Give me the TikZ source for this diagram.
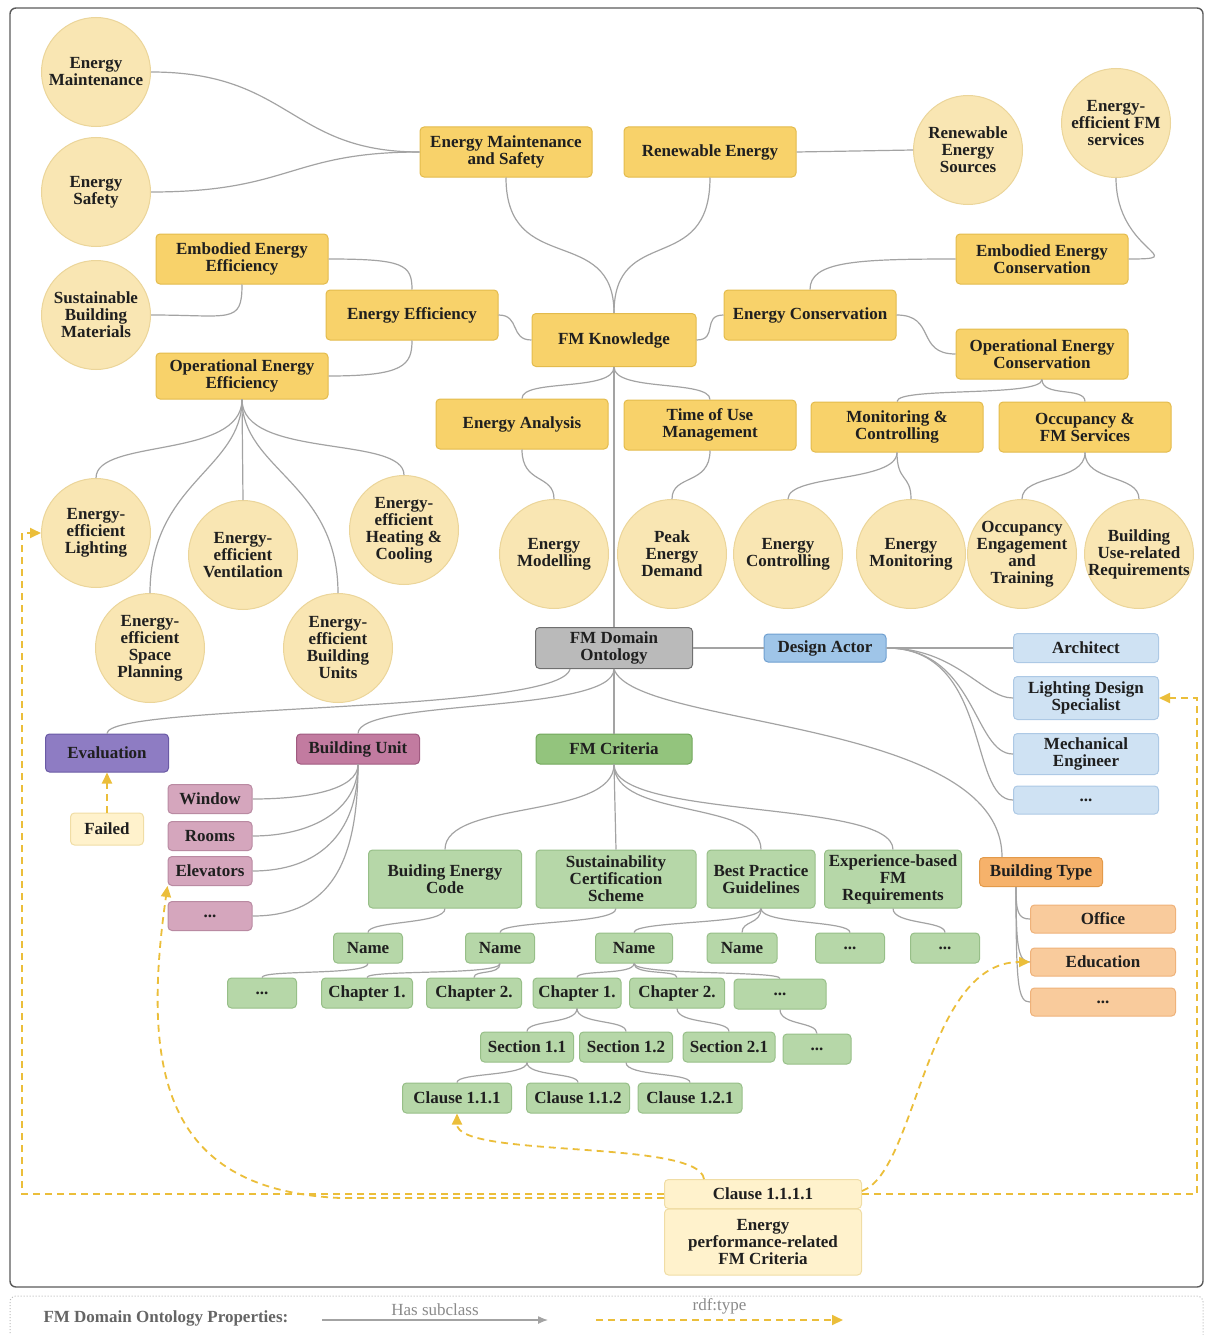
\documentclass[tikz,border=0pt]{standalone}
\usepackage{fontspec}
\setmainfont{Liberation Serif}
\usetikzlibrary{arrows.meta}

\definecolor{goldfill}{HTML}{F8D26A}
\definecolor{goldline}{HTML}{E3BB4C}
\definecolor{bubfill}{HTML}{F9E6B3}
\definecolor{bubline}{HTML}{EBD59A}
\definecolor{edgegray}{HTML}{A3A3A3}
\definecolor{ontfill}{HTML}{BABABA}
\definecolor{ontline}{HTML}{707070}
\definecolor{dafill}{HTML}{9FC5E8}
\definecolor{daline}{HTML}{6F9FD0}
\definecolor{lbfill}{HTML}{CFE2F3}
\definecolor{lbline}{HTML}{ADC9E5}
\definecolor{evfill}{HTML}{8E7CC3}
\definecolor{evline}{HTML}{6A5AA5}
\definecolor{bufill}{HTML}{C27BA0}
\definecolor{buline}{HTML}{A05A80}
\definecolor{pkfill}{HTML}{D5A6BD}
\definecolor{pkline}{HTML}{B98AA2}
\definecolor{fcfill}{HTML}{93C47D}
\definecolor{fcline}{HTML}{72A85C}
\definecolor{lgfill}{HTML}{B6D7A8}
\definecolor{lgline}{HTML}{97BF88}
\definecolor{btfill}{HTML}{F6B26B}
\definecolor{btline}{HTML}{E39A4A}
\definecolor{orfill}{HTML}{F9CB9C}
\definecolor{orline}{HTML}{EFB27A}
\definecolor{palefill}{HTML}{FFF2CC}
\definecolor{paleline}{HTML}{F0DDA5}
\definecolor{rdfgold}{HTML}{EBBE3A}
\definecolor{framegray}{HTML}{5A5A5A}
\definecolor{legendgray}{HTML}{8A8A8A}
\definecolor{legendtitle}{HTML}{656565}

\tikzset{
  lbl/.style={font=\bfseries\fontsize{17}{17}\selectfont, text=black!88, align=center},
  box/.style={lbl, rounded corners=4pt, line width=1pt, inner sep=2pt},
  gold/.style={box, fill=goldfill, draw=goldline, minimum width=172pt, minimum height=50pt},
  bubble/.style={lbl, circle, fill=bubfill, draw=bubline, line width=1pt, minimum size=109pt, inner sep=-8pt},
  onto/.style={box, fill=ontfill, draw=ontline, minimum width=157pt, minimum height=41pt},
  actor/.style={box, fill=dafill, draw=daline, minimum width=122pt, minimum height=28pt},
  actorsub/.style={box, fill=lbfill, draw=lbline, minimum width=145pt, minimum height=29pt},
  evalbox/.style={box, fill=evfill, draw=evline, minimum width=123pt, minimum height=38pt},
  unitbox/.style={box, fill=bufill, draw=buline, minimum width=123pt, minimum height=30pt},
  unitsub/.style={box, fill=pkfill, draw=pkline, minimum width=84pt, minimum height=29pt},
  critbox/.style={box, fill=fcfill, draw=fcline, minimum width=156pt, minimum height=30pt},
  critsub/.style={box, fill=lgfill, draw=lgline, minimum height=30pt},
  typebox/.style={box, fill=btfill, draw=btline, minimum width=123pt, minimum height=29pt},
  typesub/.style={box, fill=orfill, draw=orline, minimum width=145pt, minimum height=28pt},
  palebox/.style={box, fill=palefill, draw=paleline},
  sub/.style={draw=edgegray, line width=1.2pt},
  rdf/.style={draw=rdfgold, line width=1.8pt, dash pattern=on 7pt off 5pt, -{Triangle[length=11pt,width=10pt]}},
  lgd/.style={font=\bfseries\fontsize{17}{17}\selectfont, text=legendtitle},
  lgdsmall/.style={font=\fontsize{17}{17}\selectfont, text=legendgray},
}

\begin{document}
\begin{tikzpicture}[x=1pt,y=-1pt]
\useasboundingbox (0,0) rectangle (1205,1335);
\draw[framegray, line width=1.4pt, rounded corners=6pt] (10,8) rectangle (1203,1287);
\draw[legendgray!60, line width=1pt, dotted, rounded corners=6pt] (10,1345) |- (1203,1296) -- (1203,1345);

% FM Knowledge
\node[bubble] (emaint) at (96,72) {Energy\\Maintenance};
\node[bubble] (esafe) at (96,192) {Energy\\Safety};
\node[bubble] (sbm) at (96,315) {Sustainable\\Building\\Materials};
\node[gold] (ems) at (506,152) {Energy Maintenance\\and Safety};
\node[gold] (renew) at (710,152) {Renewable Energy};
\node[bubble] (res) at (968,150) {Renewable\\Energy\\Sources};
\node[bubble] (eefm) at (1116,123) {Energy-\\efficient FM\\services};
\node[gold] (eee) at (242,259) {Embodied Energy\\Efficiency};
\node[gold] (eeff) at (412,315) {Energy Efficiency};
\node[gold, minimum height=46pt] (oee) at (242,376) {Operational Energy\\Efficiency};
\node[gold, minimum width=164pt, minimum height=53pt] (fmk) at (614,340) {FM Knowledge};
\node[gold] (econs) at (810,315) {Energy Conservation};
\node[gold] (eec) at (1042,259) {Embodied Energy\\Conservation};
\node[gold] (oec) at (1042,354) {Operational Energy\\Conservation};
\node[gold] (eana) at (522,424) {Energy Analysis};
\node[gold] (tou) at (710,425) {Time of Use\\Management};
\node[gold] (moncon) at (897,427) {Monitoring \&\\Controlling};
\node[gold] (occfm) at (1085,427) {Occupancy \&\\FM Services};

\node[bubble] (eel) at (96,533) {Energy-\\efficient\\Lighting};
\node[bubble] (eev) at (243,555) {Energy-\\efficient\\Ventilation};
\node[bubble] (eehc) at (404,530) {Energy-\\efficient\\Heating \&\\Cooling};
\node[bubble] (eesp) at (150,648) {Energy-\\efficient\\Space\\Planning};
\node[bubble] (eebu) at (338,648) {Energy-\\efficient\\Building\\Units};
\node[bubble] (emod) at (554,554) {Energy\\Modelling};
\node[bubble] (peak) at (672,554) {Peak\\Energy\\Demand};
\node[bubble] (ectl) at (788,554) {Energy\\Controlling};
\node[bubble] (emon) at (911,554) {Energy\\Monitoring};
\node[bubble] (occeng) at (1022,554) {Occupancy\\Engagement\\and\\Training};
\node[bubble] (bur) at (1139,554) {Building\\Use-related\\Requirements};

% ontology root and its classes
\node[onto] (fmd) at (614,648) {FM Domain\\Ontology};
\node[actor] (dactor) at (825,648) {Design Actor};
\node[actorsub] (arch) at (1086,648) {Architect};
\node[actorsub, minimum height=43pt] (lds) at (1086,698) {Lighting Design\\Specialist};
\node[actorsub, minimum height=41pt] (mech) at (1086,754) {Mechanical\\Engineer};
\node[actorsub, minimum height=28pt] (actmore) at (1086,800) {...};
\node[evalbox] (eval) at (107,753) {Evaluation};
\node[palebox, minimum width=73pt, minimum height=32pt] (failed) at (107,829) {Failed};
\node[unitbox] (bunit) at (358,749) {Building Unit};
\node[unitsub] (window) at (210,799) {Window};
\node[unitsub] (rooms) at (210,836) {Rooms};
\node[unitsub] (elev) at (210,871) {Elevators};
\node[unitsub] (unitmore) at (210,916) {...};
\node[critbox] (fmcrit) at (614,749) {FM Criteria};
\node[critsub, minimum width=153pt, minimum height=58pt] (bec) at (445,879) {Buiding Energy\\Code};
\node[critsub, minimum width=160pt, minimum height=58pt] (scs) at (616,879) {Sustainability\\Certification\\Scheme};
\node[critsub, minimum width=108pt, minimum height=58pt] (bpg) at (761,879) {Best Practice\\Guidelines};
\node[critsub, minimum width=137pt, minimum height=58pt, inner xsep=0pt] (expfm) at (893,879) {Experience-based\\FM\\Requirements};
\node[typebox] (btype) at (1041,872) {Building Type};
\node[typesub] (office) at (1103,919) {Office};
\node[typesub] (educ) at (1103,962) {Education};
\node[typesub] (typemore) at (1103,1002) {...};

\node[critsub, minimum width=69pt] (name1) at (368,948) {Name};
\node[critsub, minimum width=69pt] (name2) at (500,948) {Name};
\node[critsub, minimum width=77pt] (name3) at (634,948) {Name};
\node[critsub, minimum width=70pt] (name4) at (742,948) {Name};
\node[critsub, minimum width=69pt] (namemore1) at (850,948) {...};
\node[critsub, minimum width=69pt] (namemore2) at (945,948) {...};

\node[critsub, minimum width=69pt] (chmore1) at (262,993) {...};
\node[critsub, minimum width=91pt] (ch1a) at (367,993) {Chapter 1.};
\node[critsub, minimum width=95pt] (ch2a) at (474,993) {Chapter 2.};
\node[critsub, minimum width=88pt] (ch1b) at (577,993) {Chapter 1.};
\node[critsub, minimum width=95pt] (ch2b) at (677,993) {Chapter 2.};
\node[critsub, minimum width=92pt] (chmore2) at (780,994) {...};

\node[critsub, minimum width=93pt] (sec11) at (527,1047) {Section 1.1};
\node[critsub, minimum width=93pt] (sec12) at (626,1047) {Section 1.2};
\node[critsub, minimum width=92pt] (sec21) at (729,1047) {Section 2.1};
\node[critsub, minimum width=68pt] (secmore) at (817,1049) {...};

\node[critsub, minimum width=109pt] (cl111) at (457,1098) {Clause 1.1.1};
\node[critsub, minimum width=103pt] (cl112) at (578,1098) {Clause 1.1.2};
\node[critsub, minimum width=104pt] (cl121) at (690,1098) {Clause 1.2.1};

\node[palebox, minimum width=197pt, minimum height=29pt] (clsub) at (763,1194) {Clause 1.1.1.1};
\node[palebox, minimum width=197pt, minimum height=66pt] (eprc) at (763,1242) {Energy\\performance-related\\FM Criteria};

% has subclass
\draw[sub] (emaint.east) .. controls +(140,0) and +(-130,0) .. (ems.west);
\draw[sub] (esafe.east) .. controls +(140,0) and +(-130,0) .. (ems.west);
\draw[sub] (sbm.east) .. controls +(80,0) and +(0,40) .. (eee.south);
\draw[sub] (eee.east) .. controls +(75,0) and +(0,-25) .. (eeff.north);
\draw[sub] (oee.east) .. controls +(75,0) and +(0,25) .. (eeff.south);
\draw[sub] (eeff.east) .. controls +(22,0) and +(-22,0) .. (fmk.west);
\draw[sub] (ems.south) .. controls +(0,100) and +(0,-90) .. (fmk.north);
\draw[sub] (renew.south) .. controls +(0,100) and +(0,-90) .. (fmk.north);
\draw[sub] (renew.east) -- (res.west);
\draw[sub] (fmk.east) .. controls +(22,0) and +(-22,0) .. (econs.west);
\draw[sub] (econs.north) .. controls +(0,-28) and +(-100,0) .. (eec.west);
\draw[sub] (econs.east) .. controls +(40,0) and +(-40,0) .. (oec.west);
\draw[sub] (eefm.south) .. controls +(0,75) and +(65,0) .. (eec.east);
\draw[sub] (fmk.south) .. controls +(0,25) and +(0,-20) .. (eana.north);
\draw[sub] (fmk.south) .. controls +(0,25) and +(0,-20) .. (tou.north);
\draw[sub] (fmk.south) -- (fmd.north);
\draw[sub] (eana.south) .. controls +(0,35) and +(0,-25) .. (emod.north);
\draw[sub] (tou.south) .. controls +(0,35) and +(0,-25) .. (peak.north);
\draw[sub] (oec.south) .. controls +(0,18) and +(0,-15) .. (moncon.north);
\draw[sub] (oec.south) .. controls +(0,18) and +(0,-15) .. (occfm.north);
\draw[sub] (moncon.south) .. controls +(0,30) and +(0,-25) .. (ectl.north);
\draw[sub] (moncon.south) .. controls +(0,30) and +(0,-25) .. (emon.north);
\draw[sub] (occfm.south) .. controls +(0,30) and +(0,-25) .. (occeng.north);
\draw[sub] (occfm.south) .. controls +(0,30) and +(0,-25) .. (bur.north);
\draw[sub] (oee.south) .. controls +(0,60) and +(0,-40) .. (eel.north);
\draw[sub] (oee.south) .. controls +(0,70) and +(0,-110) .. (eesp.north);
\draw[sub] (oee.south) -- (eev.north);
\draw[sub] (oee.south) .. controls +(0,70) and +(0,-110) .. (eebu.north);
\draw[sub] (oee.south) .. controls +(0,60) and +(0,-40) .. (eehc.north);

\draw[sub] (fmd.east) -- (dactor.west);
\draw[sub] (dactor.east) -- (arch.west);
\draw[sub] (dactor.east) .. controls +(70,0) and +(-30,0) .. (lds.west);
\draw[sub] (dactor.east) .. controls +(90,0) and +(-40,0) .. (mech.west);
\draw[sub] (dactor.east) .. controls +(105,0) and +(-45,0) .. (actmore.west);
\draw[sub] ([xshift=35pt]fmd.south west) .. controls +(-10,45) and +(0,-30) .. (eval.north);
\draw[sub] (fmd.south) .. controls +(0,45) and +(0,-35) .. (bunit.north);
\draw[sub] (fmd.south) -- (fmcrit.north);
\draw[sub] (fmd.south) .. controls +(20,60) and +(0,-140) .. ([xshift=23pt]btype.north west);
\draw[sub] (bunit.south) .. controls +(0,25) and +(55,0) .. (window.east);
\draw[sub] (bunit.south) .. controls +(0,45) and +(60,0) .. (rooms.east);
\draw[sub] (bunit.south) .. controls +(0,70) and +(65,0) .. (elev.east);
\draw[sub] (bunit.south) .. controls +(0,110) and +(70,0) .. (unitmore.east);
\draw[sub] ([xshift=37pt]btype.south west) .. controls +(0,25) and +(-12,0) .. (office.west);
\draw[sub] ([xshift=37pt]btype.south west) .. controls +(0,60) and +(-12,0) .. (educ.west);
\draw[sub] ([xshift=37pt]btype.south west) .. controls +(0,100) and +(-12,0) .. (typemore.west);

\draw[sub] (fmcrit.south) .. controls +(0,55) and +(0,-50) .. (bec.north);
\draw[sub] (fmcrit.south) -- (scs.north);
\draw[sub] (fmcrit.south) .. controls +(0,55) and +(0,-50) .. (bpg.north);
\draw[sub] (fmcrit.south) .. controls +(0,55) and +(0,-50) .. (expfm.north);
\draw[sub] (bec.south) .. controls +(0,16) and +(0,-12) .. (name1.north);
\draw[sub] (scs.south) .. controls +(0,16) and +(0,-12) .. (name2.north);
\draw[sub] (bpg.south) .. controls +(0,16) and +(0,-12) .. (name3.north);
\draw[sub] (bpg.south) .. controls +(0,16) and +(0,-12) .. (name4.north);
\draw[sub] (bpg.south) .. controls +(0,16) and +(0,-12) .. (namemore1.north);
\draw[sub] (expfm.south) .. controls +(0,16) and +(0,-12) .. (namemore2.north);
\draw[sub] (name1.south) .. controls +(0,12) and +(0,-8) .. (chmore1.north);
\draw[sub] (name2.south) .. controls +(0,12) and +(0,-8) .. (ch1a.north);
\draw[sub] (name2.south) .. controls +(0,12) and +(0,-8) .. (ch2a.north);
\draw[sub] (name3.south) .. controls +(0,12) and +(0,-8) .. (ch1b.north);
\draw[sub] (name3.south) .. controls +(0,12) and +(0,-8) .. (ch2b.north);
\draw[sub] (name3.south) .. controls +(0,12) and +(0,-8) .. (chmore2.north);
\draw[sub] (ch1b.south) .. controls +(0,16) and +(0,-12) .. (sec11.north);
\draw[sub] (ch1b.south) .. controls +(0,16) and +(0,-12) .. (sec12.north);
\draw[sub] (ch2b.south) .. controls +(0,16) and +(0,-12) .. (sec21.north);
\draw[sub] (chmore2.south) .. controls +(0,16) and +(0,-12) .. (secmore.north);
\draw[sub] (sec11.south) .. controls +(0,14) and +(0,-10) .. (cl111.north);
\draw[sub] (sec11.south) .. controls +(0,14) and +(0,-10) .. (cl112.north);
\draw[sub] (sec12.south) .. controls +(0,14) and +(0,-10) .. (cl121.north);

% rdf:type
\coordinate (lft) at (22,1194);
\coordinate (rgt) at (1197,1194);
\coordinate (bend) at (340,1198);
\draw[rdf] (failed.north) -- (eval.south);
\draw[rdf] ([xshift=40pt]clsub.north west) .. controls +(-5,-40) and +(0,45) .. (cl111.south);
\draw[rdf] (clsub.west) -- (lft) |- (eel.west);
\draw[rdf] ([yshift=-4pt]clsub.west) -- (bend) .. controls +(-170,-8) and +(-28,195) .. (elev.south west);
\draw[rdf] (clsub.east) -- (rgt) |- (lds.east);
\draw[rdf] ([yshift=3pt]clsub.east) .. controls +(55,-20) and +(-105,0) .. (educ.west);

% legend
\node[lgd, anchor=west] (legtitle) at (40,1318) {FM Domain Ontology Properties:};
\coordinate (has0) at (322,1320);
\coordinate (has1) at (548,1320);
\draw[sub, -{Latex[length=10pt,width=8pt]}] (has0) -- node[above, lgdsmall] (haslbl) {Has subclass} (has1);
\coordinate (typ0) at (596,1320);
\coordinate (typ1) at (843,1320);
\draw[rdf] (typ0) -- node[above, lgdsmall, yshift=2pt] (typlbl) {rdf:type} (typ1);
\end{tikzpicture}
\end{document}
